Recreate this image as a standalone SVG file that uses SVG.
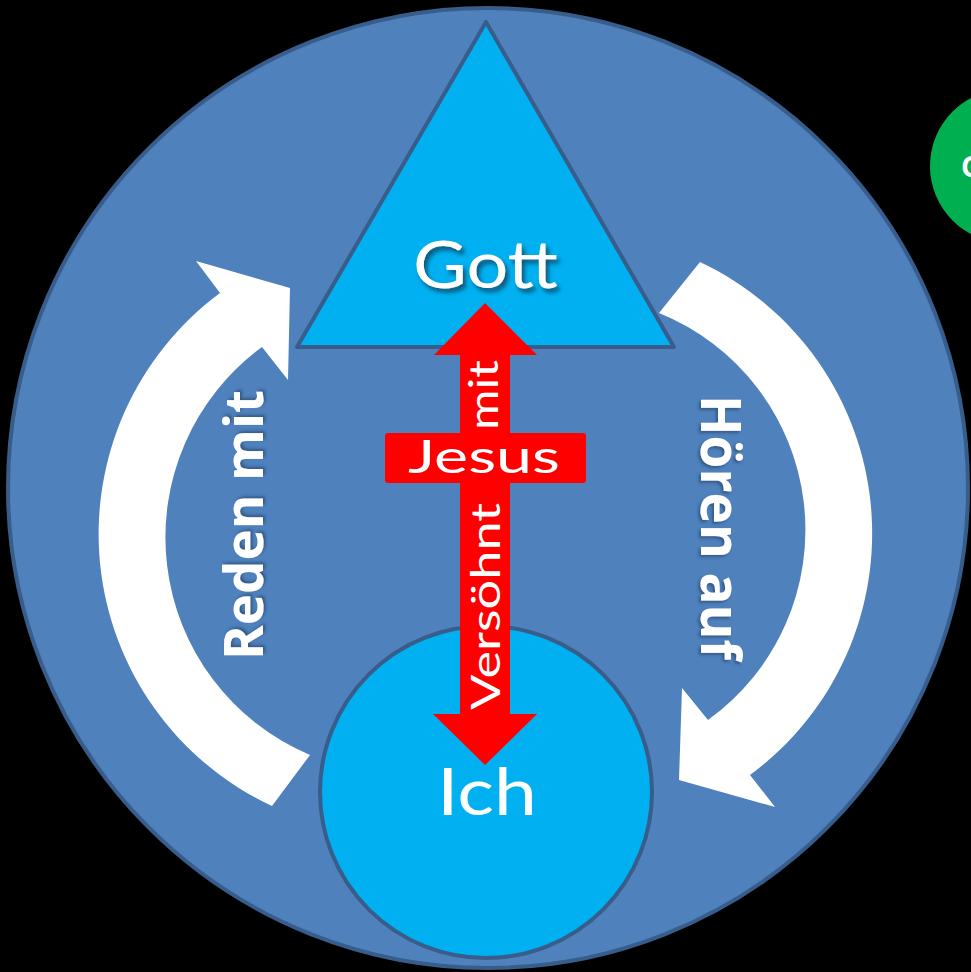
<svg xmlns="http://www.w3.org/2000/svg" width="971" height="972" viewBox="0 0 971 972">
  <style>
    .shape-stroke { stroke: #385D8A; stroke-width: 4; }
    .light { fill: #00B0F0; }
    .lbl { fill: #FFFFFF; font-family: Lato, "Open Sans", "Liberation Sans", sans-serif; }
    .bold { fill: #FFFFFF; font-family: "Open Sans", "Liberation Sans", sans-serif; font-weight: bold; }
    .white-arrow { fill: #FFFFFF; }
    .red { fill: #FF0000; }
  </style>
  <defs>
    <filter id="shGott" x="-20%" y="-20%" width="150%" height="150%">
      <feDropShadow dx="3" dy="4" stdDeviation="2" flood-color="#0A4F6E" flood-opacity="0.95"/>
    </filter>
    <filter id="shSoft" x="-20%" y="-20%" width="150%" height="150%">
      <feDropShadow dx="2" dy="2" stdDeviation="1.5" flood-color="#1F3A5F" flood-opacity="0.6"/>
    </filter>
  </defs>
  <rect x="0" y="0" width="971" height="972" fill="#000000"/>

  <g id="green-node">
    <circle cx="1007" cy="166" r="77" fill="#00B050"/>
    <text class="bold" x="961" y="177" font-size="28">G</text>
  </g>

  <g id="outer-circle">
    <circle cx="488" cy="488" r="480" fill="#4F81BD" class="shape-stroke"/>
  </g>

  <g id="gott-node">
    <polygon points="486,22 297,347 674,347" class="light shape-stroke" stroke-linejoin="round"/>
    <text class="lbl" x="413" y="288" font-size="66" textLength="145" lengthAdjust="spacingAndGlyphs" filter="url(#shGott)">Gott</text>
  </g>

  <g id="ich-node">
    <circle cx="486" cy="792" r="166" class="light shape-stroke"/>
    <text class="lbl" x="437" y="815" font-size="65" textLength="100" lengthAdjust="spacingAndGlyphs">Ich</text>
  </g>

  <g id="connectors">
    <g id="reden-arrow">
      <path class="white-arrow" d="M 272 806 A 300 300 0 0 1 220 293 L 196 261 L 290 288 L 288 380 L 262 347 A 236 236 0 0 0 310 755 Z"/>
      <text class="bold" transform="translate(263,660) rotate(-90)" x="0" y="0" font-size="53" textLength="270" lengthAdjust="spacingAndGlyphs" filter="url(#shSoft)">Reden mit</text>
    </g>
    <g id="hoeren-arrow">
      <path class="white-arrow" d="M 700 262 A 300 300 0 0 1 750 775 L 775 807 L 679 780 L 682 688 L 708 720 A 234 234 0 0 0 659 313 Z"/>
      <text class="bold" transform="translate(701,395) rotate(90)" x="0" y="0" font-size="56" textLength="265" lengthAdjust="spacingAndGlyphs" filter="url(#shSoft)">Hören auf</text>
    </g>
    <g id="jesus-arrow">
      <polygon class="red" points="485,303 537,355 510,355 510,714 537,714 485,765 433,714 460,714 460,355 434,355"/>
      <rect class="red" x="385" y="433" width="201" height="50" rx="3"/>
      <text class="lbl" x="408" y="473" font-size="46" textLength="152" lengthAdjust="spacingAndGlyphs">Jesus</text>
      <text class="lbl" transform="translate(500,710) rotate(-90)" x="0" y="0" font-size="40" textLength="207" lengthAdjust="spacingAndGlyphs">Versöhnt</text>
      <text class="lbl" transform="translate(498,430) rotate(-90)" x="0" y="0" font-size="40" textLength="70" lengthAdjust="spacingAndGlyphs">mit</text>
    </g>
  </g>
</svg>
